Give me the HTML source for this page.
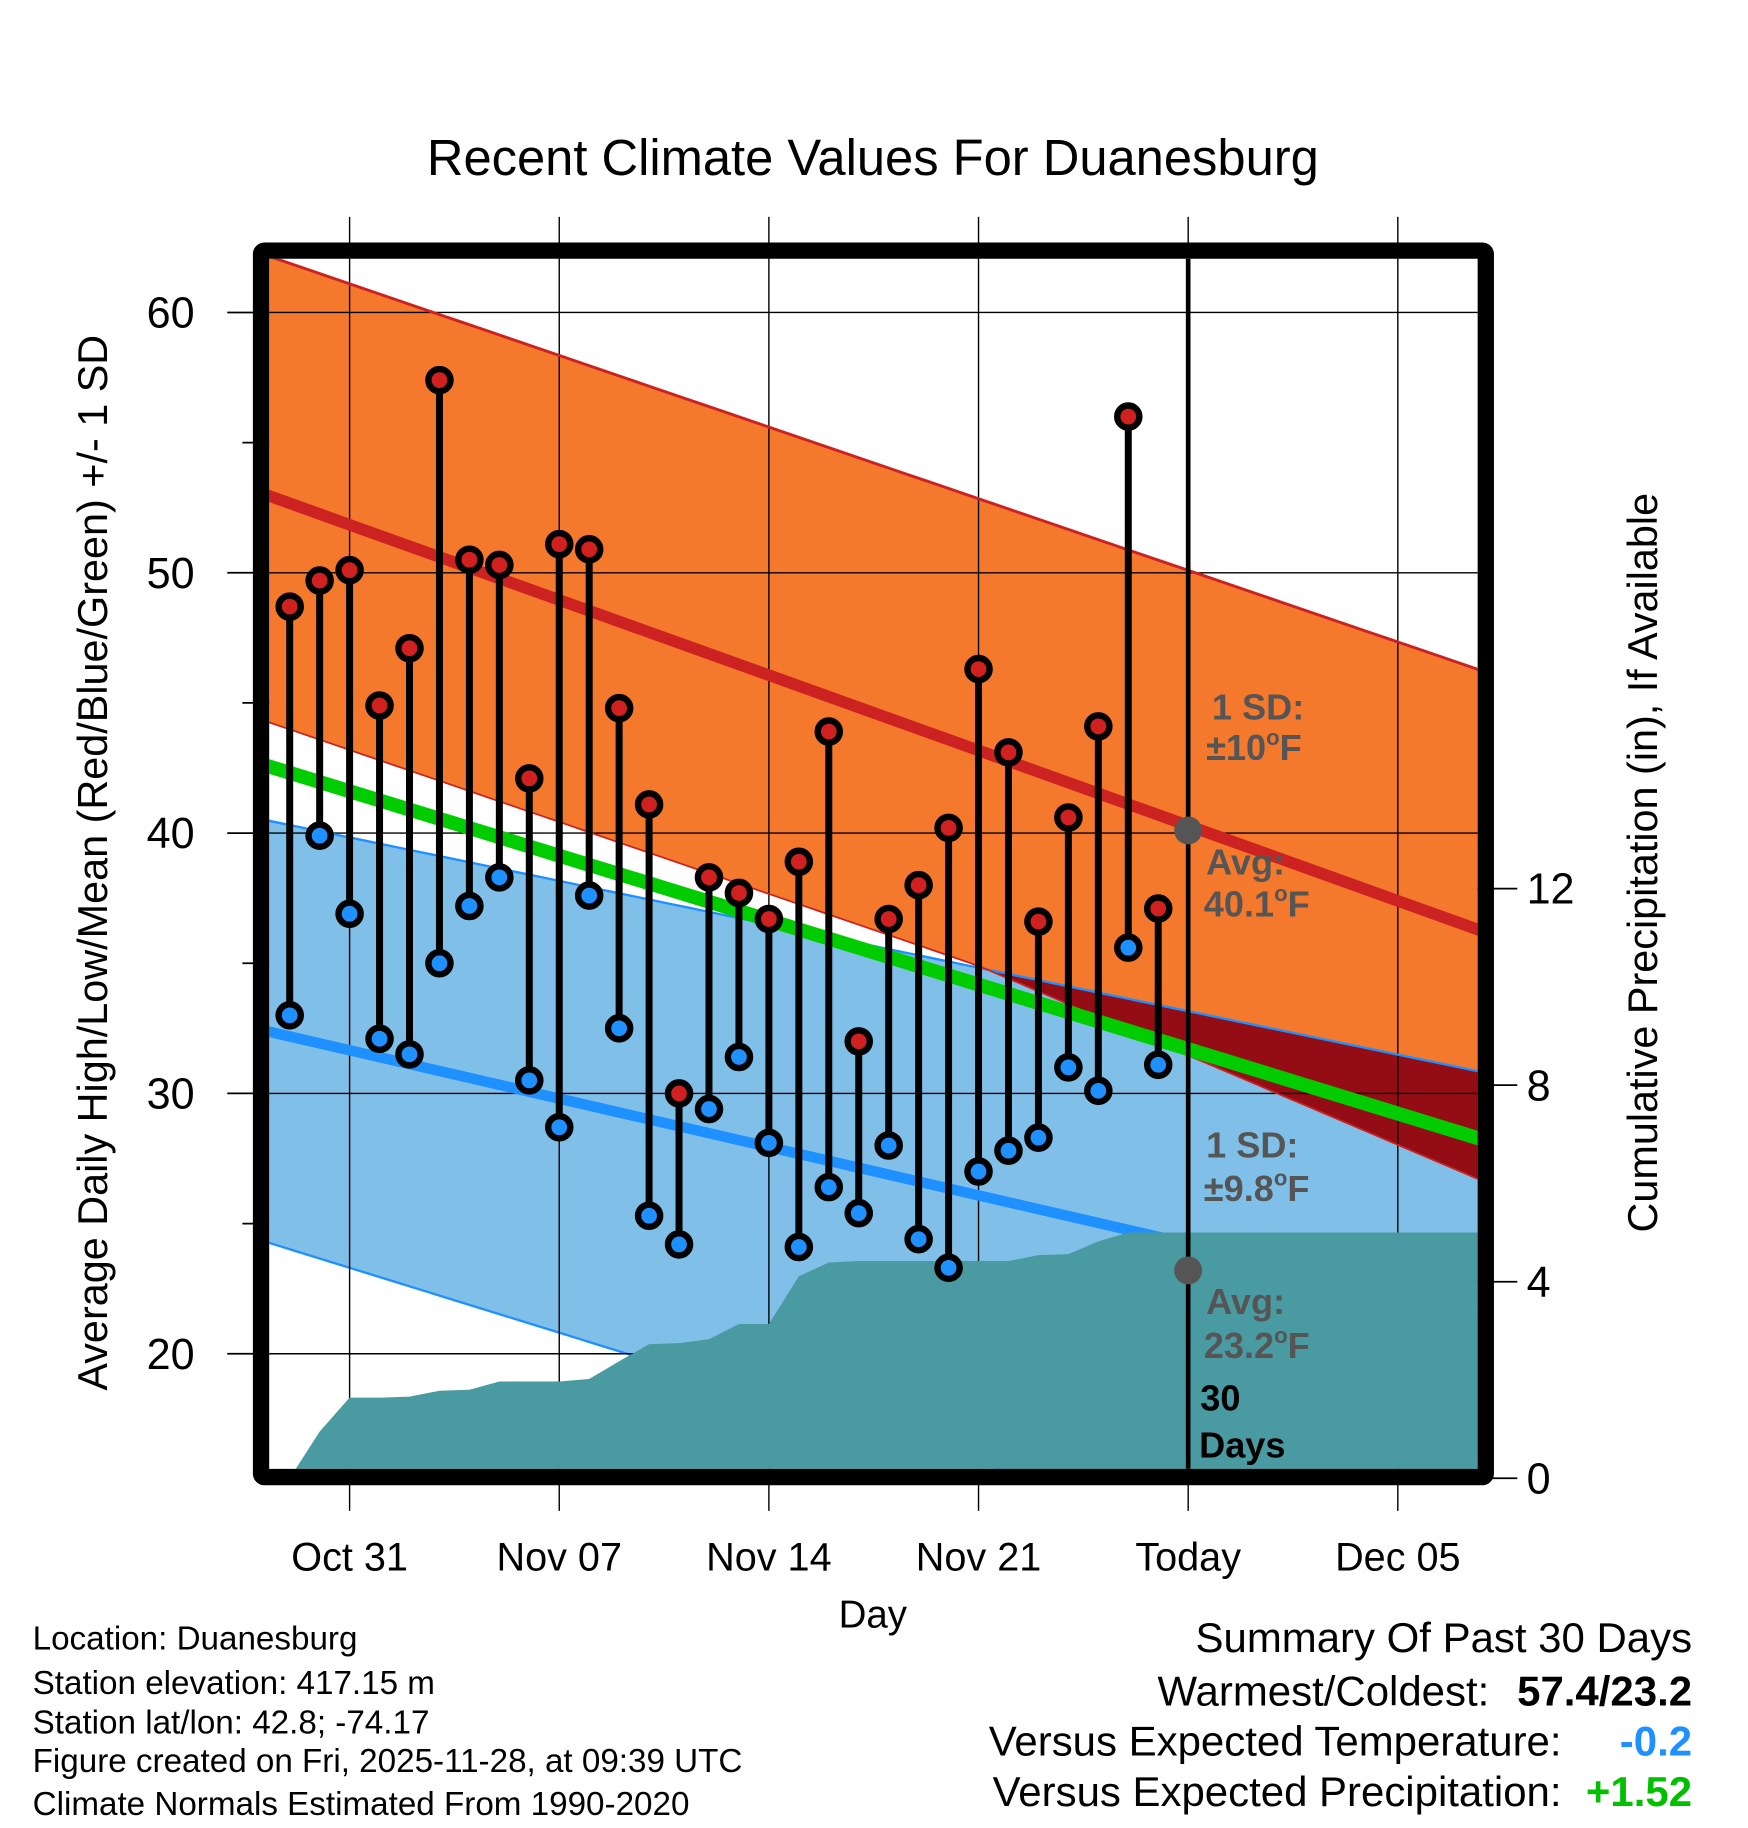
<!DOCTYPE html>
<html><head><meta charset="utf-8"><style>
html,body{margin:0;padding:0;background:#fff;}
svg{display:block;font-family:"Liberation Sans",Arial,sans-serif;}
</style></head><body>
<svg id="chart" width="1748" height="1828" viewBox="0 0 1500 1568" preserveAspectRatio="none" xmlns="http://www.w3.org/2000/svg">
<text x="749" y="150" font-size="43.5" text-anchor="middle">Recent Climate Values For Duanesburg</text>
<g id="bands"></g>
<g id="grid"></g>
<g id="precipG"></g>
<g id="lines"></g>
<g id="stems"></g>
<g id="annot">
<text x="1040" y="617" font-size="31" font-weight="bold" fill="#555">1 SD:</text>
<text x="1035" y="652" font-size="31" font-weight="bold" fill="#555">±10<tspan font-size="19" dy="-13">o</tspan><tspan dy="13">F</tspan></text>
<text x="1035" y="750" font-size="31" font-weight="bold" fill="#555">Avg:</text>
<text x="1033" y="786" font-size="31" font-weight="bold" fill="#555">40.1<tspan font-size="19" dy="-13">o</tspan><tspan dy="13">F</tspan></text>
<text x="1035" y="993" font-size="31" font-weight="bold" fill="#555">1 SD:</text>
<text x="1033" y="1030" font-size="31" font-weight="bold" fill="#555">±9.8<tspan font-size="19" dy="-13">o</tspan><tspan dy="13">F</tspan></text>
<text x="1035" y="1127" font-size="31" font-weight="bold" fill="#555">Avg:</text>
<text x="1033" y="1165" font-size="31" font-weight="bold" fill="#555">23.2<tspan font-size="19" dy="-13">o</tspan><tspan dy="13">F</tspan></text>
<text x="1030" y="1210" font-size="31" font-weight="bold">30</text>
<text x="1029" y="1250" font-size="31" font-weight="bold">Days</text>
</g>
<rect x="224" y="215" width="1051" height="1052" fill="none" stroke="#000" stroke-width="14" rx="3"/>
<g id="axes"></g>
<text transform="translate(92,740) rotate(-90)" font-size="35.5" text-anchor="middle">Average Daily High/Low/Mean (Red/Blue/Green) +/- 1 SD</text>
<text transform="translate(1422,740) rotate(-90)" font-size="35.5" text-anchor="middle">Cumulative Precipitation (in), If Available</text>
<text x="749" y="1396" font-size="33" text-anchor="middle">Day</text>
<g font-size="28.5">
<text x="28" y="1415">Location: Duanesburg</text>
<text x="28" y="1453">Station elevation: 417.15 m</text>
<text x="28" y="1487">Station lat/lon: 42.8; -74.17</text>
<text x="28" y="1520">Figure created on Fri, 2025-11-28, at 09:39 UTC</text>
<text x="28" y="1557">Climate Normals Estimated From 1990-2020</text>
</g>
<g font-size="36">
<text x="1452" y="1417" text-anchor="end">Summary Of Past 30 Days</text>
<text x="1278" y="1463" text-anchor="end">Warmest/Coldest:</text>
<text x="1452" y="1463" text-anchor="end" font-weight="bold">57.4/23.2</text>
<text x="1340" y="1506" text-anchor="end">Versus Expected Temperature:</text>
<text x="1452" y="1506" text-anchor="end" font-weight="bold" fill="#1e90ff">-0.2</text>
<text x="1340" y="1549" text-anchor="end">Versus Expected Precipitation:</text>
<text x="1452" y="1549" text-anchor="end" font-weight="bold" fill="#00c000">+1.52</text>
</g>
</svg>
<script>
// day index: 0 = Oct 31
const days = [-2,-1,0,1,2,3,4,5,6,7,8,9,10,11,12,13,14,15,16,17,18,19,20,21,22,23,24,25,26,27];
const highs = [48.7,49.7,50.1,44.9,47.1,57.4,50.5,50.3,42.1,51.1,50.9,44.8,41.1,30.0,38.3,37.7,36.7,38.9,43.9,32.0,36.7,38.0,40.2,46.3,43.1,36.6,40.6,44.1,56.0,37.1];
const lows = [33.0,39.9,36.9,32.1,31.5,35.0,37.2,38.3,30.5,28.7,37.6,32.5,25.3,24.2,29.4,31.4,28.1,24.1,26.4,25.4,28.0,24.4,23.3,27.0,27.8,28.3,31.0,30.1,35.6,31.1];
const precip = [0,0.95,1.64,1.64,1.66,1.78,1.80,1.97,1.97,1.97,2.02,2.38,2.73,2.75,2.83,3.14,3.14,4.11,4.39,4.42,4.42,4.42,4.42,4.42,4.42,4.54,4.56,4.82,5.0,5.0];
const normDays = [-2.8, 37.9];
const avgHigh = [53.0, 36.2];
const highUpper = [62.2, 46.2];
const highLowerDays = [-2.8, 21, 37.9];
const highLower = [44.3, 34.9, 26.6];
const avgMean = [42.6, 28.2];
const avgLow = [32.4, 21.6];
const lowUpper = [40.5, 30.8];
const lowLower = [24.3, 9.8];
const todayDay = 28;
const todayAvgs = [40.1, 23.2];
const yTicks = [20,30,40,50,60];
const yMinor = [25,35,45,55];
const y2Ticks = [0,4,8,12];
const xTickDays = [0,7,14,21,28,35];
const xTickLabels = ["Oct 31","Nov 07","Nov 14","Nov 21","Today","Dec 05"];

const NS="http://www.w3.org/2000/svg";
const L=231,R=1268,T=222,B=1260;
const X=d=>300+d*25.7;
const Y=v=>268+(60-v)*22.33;
const Y2=p=>1268-p*42.15;
function mk(tag,attrs,parent){const e=document.createElementNS(NS,tag);for(const k in attrs)e.setAttribute(k,attrs[k]);parent.appendChild(e);return e;}
const interp=(xs,ys,d)=>{for(let i=0;i<xs.length-1;i++){if(d<=xs[i+1]||i==xs.length-2){const t=(d-xs[i])/(xs[i+1]-xs[i]);return ys[i]+t*(ys[i+1]-ys[i]);}}};
const g=id=>document.getElementById(id);
const clipDefs=mk('defs',{},g('chart'));
const cp=mk('clipPath',{id:'plotclip'},clipDefs);mk('rect',{x:L,y:T,width:R-L,height:B-T},cp);
['bands','grid','precipG','lines','stems'].forEach(id=>g(id).setAttribute('clip-path','url(#plotclip)'));
const ds=[];for(let d=normDays[0];d<normDays[1];d+=0.5)ds.push(d);ds.push(normDays[1]);
function bandPath(topF,botF){let s=ds.map((d,i)=>(i?'L':'M')+X(d)+','+Y(topF(d))).join('');s+=ds.slice().reverse().map(d=>'L'+X(d)+','+Y(botF(d))).join('');return s+'Z';}
const fLU=d=>interp(normDays,lowUpper,d),fLL=d=>interp(normDays,lowLower,d);
const fHU=d=>interp(normDays,highUpper,d),fHL=d=>interp(highLowerDays,highLower,d);
let e;
e=mk('path',{d:bandPath(fLU,fLL),fill:'#80c0e8'},g('bands'));


e=mk('path',{d:bandPath(fHU,fHL),fill:'#f5792c'},g('bands'));


e=mk('path',{d:bandPath(d=>Math.max(fLU(d),fHL(d)),fHL),fill:'#940d14'},g('bands'));


yTicks.forEach(v=>{const l=mk('line',{x1:L,x2:R,y1:Y(v),y2:Y(v),stroke:'#000','stroke-width':1.2},g('grid'));});
xTickDays.forEach(d=>{const l=mk('line',{x1:X(d),x2:X(d),y1:T,y2:B,stroke:'#000','stroke-width':1.2},g('grid'));});
let pp='M'+X(days[0])+','+Y2(0);days.forEach((d,i)=>pp+='L'+X(d)+','+Y2(precip[i]));pp+='L'+(R+5)+','+Y2(precip[precip.length-1])+'L'+(R+5)+','+(B+5)+'L'+X(days[0])+','+(B+5)+'Z';
e=mk('path',{d:pp,fill:'#4a9aa2'},g('precipG'));


function nline(ys,xs,col,w){return mk('line',{x1:X(xs[0]),y1:Y(ys[0]),x2:X(xs[xs.length-1]),y2:Y(ys[ys.length-1]),stroke:col,'stroke-width':w},g('lines'));}
e=nline(avgLow,normDays,'#1e90ff',9);
g('precipG').parentNode.insertBefore(e,g('precipG'));
e.setAttribute('clip-path','url(#plotclip)');
e=mk('path',{d:ds.map((d,i)=>(i?'L':'M')+X(d)+','+Y(fLU(d))).join(''),stroke:'#1e90ff','stroke-width':2,fill:'none'},g('lines'));

e=mk('path',{d:ds.map((d,i)=>(i?'L':'M')+X(d)+','+Y(fLL(d))).join(''),stroke:'#1e90ff','stroke-width':2,fill:'none'},g('bands'));

e=mk('path',{d:ds.map((d,i)=>(i?'L':'M')+X(d)+','+Y(fHU(d))).join(''),stroke:'#cc2222','stroke-width':2.5,fill:'none'},g('lines'));

e=mk('path',{d:ds.map((d,i)=>(i?'L':'M')+X(d)+','+Y(fHL(d))).join(''),stroke:'#cc2222','stroke-width':1.5,fill:'none'},g('lines'));

e=nline(avgMean,normDays,'#00cc00',12);
e=nline(avgHigh,normDays,'#cc2222',10);
days.forEach((d,i)=>{
 const s=mk('line',{x1:X(d),x2:X(d),y1:Y(highs[i]),y2:Y(lows[i]),stroke:'#000','stroke-width':6},g('stems'));
 
});
days.forEach((d,i)=>{
 const h=mk('circle',{cx:X(d),cy:Y(highs[i]),r:9.5,fill:'#d02020',stroke:'#000','stroke-width':5.5},g('stems'));
 
 const lo=mk('circle',{cx:X(d),cy:Y(lows[i]),r:9.5,fill:'#1e90ff',stroke:'#000','stroke-width':5.5},g('stems'));
 
});
e=mk('line',{x1:X(todayDay),x2:X(todayDay),y1:T,y2:B,stroke:'#000','stroke-width':4},g('stems'));

todayAvgs.forEach(v=>{const c=mk('circle',{cx:X(todayDay),cy:Y(v),r:12,fill:'#555'},g('stems'));});
const ax=g('axes');
yTicks.forEach(v=>{
 const l=mk('line',{x1:195,x2:L,y1:Y(v),y2:Y(v),stroke:'#000','stroke-width':1.5},ax);
 const t=mk('text',{x:167,y:Y(v)+13,'font-size':37,'text-anchor':'end'},ax);t.textContent=v;
});
yMinor.forEach(v=>{const l=mk('line',{x1:208,x2:L,y1:Y(v),y2:Y(v),stroke:'#000','stroke-width':1.5},ax);});
y2Ticks.forEach(p=>{
 const l=mk('line',{x1:1268,x2:1302,y1:Y2(p),y2:Y2(p),stroke:'#000','stroke-width':1.5},ax);
 const t=mk('text',{x:1310,y:Y2(p)+13,'font-size':37},ax);t.textContent=p;
});
xTickDays.forEach((d,i)=>{
 const l1=mk('line',{x1:X(d),x2:X(d),y1:186,y2:T,stroke:'#000','stroke-width':1.2},ax);
 const l2=mk('line',{x1:X(d),x2:X(d),y1:B,y2:1296,stroke:'#000','stroke-width':1.2},ax);
 const t=mk('text',{x:X(d),y:1347,'font-size':34,'text-anchor':'middle'},ax);t.textContent=xTickLabels[i];
});
</script>
</body></html>
